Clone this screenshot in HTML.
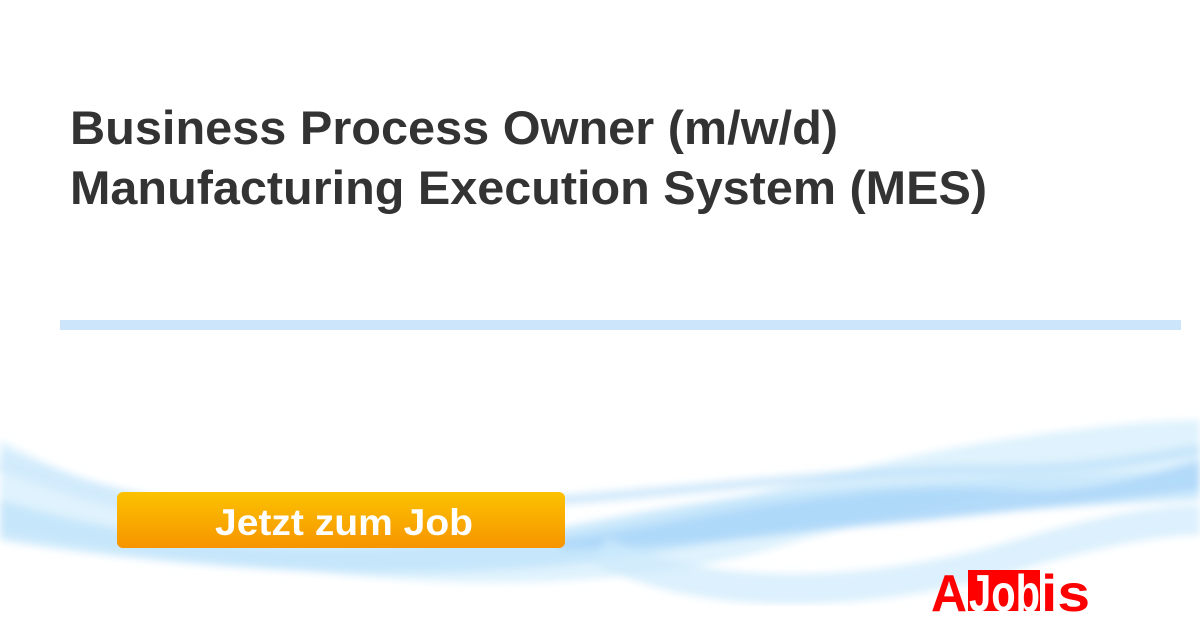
<!DOCTYPE html>
<html><head><meta charset="utf-8"><style>
html,body{margin:0;padding:0;background:#fff;}
body{width:1200px;height:630px;overflow:hidden;position:relative;font-family:"Liberation Sans",sans-serif;}
svg{position:absolute;left:0;top:0;}
</style></head><body>
<svg width="1200" height="630" viewBox="0 0 1200 630">
<defs>
<linearGradient id="btn" x1="0" y1="0" x2="0" y2="1">
<stop offset="0" stop-color="#fbc200"/><stop offset="1" stop-color="#f79400"/>
</linearGradient>
<filter id="bl"><feGaussianBlur stdDeviation="4"/></filter>
</defs>
<text x="70" y="144" font-family="Liberation Sans, sans-serif" font-weight="bold" font-size="47" fill="#333" textLength="768" lengthAdjust="spacingAndGlyphs">Business Process Owner (m/w/d)</text>
<text x="70" y="204" font-family="Liberation Sans, sans-serif" font-weight="bold" font-size="47" fill="#333" textLength="917" lengthAdjust="spacingAndGlyphs">Manufacturing Execution System (MES)</text>
<rect x="60" y="320" width="1121" height="10" fill="#cce5fb"/>
<g filter="url(#bl)" fill="none">
<path d="M0,440 C150,520 300,540 450,540 C650,540 800,470 1000,440 C1100,425 1160,420 1200,420 L1200,470 C1100,470 950,500 800,540 C650,590 450,590 300,570 C150,555 50,540 0,530 Z" fill="#d9f0fd" opacity="0.85"/>
<path d="M0,500 C200,560 400,560 600,520 C800,480 950,480 1200,470 L1200,500 C1000,510 850,520 700,545 C500,585 250,580 0,540 Z" fill="#bfe3fb" opacity="0.75"/>
<path d="M560,540 C700,520 850,480 1000,490 C1100,495 1160,470 1200,460 L1200,490 C1100,500 950,520 820,530 C700,545 620,548 560,550 Z" fill="#a8d4f8" opacity="0.75"/>
<path d="M600,550 C700,600 850,600 1000,560 C1100,530 1160,520 1200,520" stroke="#cde9fc" stroke-width="30" opacity="0.7"/>
<path d="M0,460 C100,500 200,520 300,520" stroke="#cfeafc" stroke-width="20" opacity="0.8"/>
<path d="M560,500 C700,490 850,470 1000,470 C1100,470 1160,455 1200,450" stroke="#b5dcf9" stroke-width="10" opacity="0.6"/>
</g>
<rect x="117" y="492" width="448" height="56" rx="6" fill="url(#btn)"/>
<text x="344" y="535" text-anchor="middle" font-family="Liberation Sans, sans-serif" font-weight="bold" font-size="37" fill="#fff" textLength="258" lengthAdjust="spacingAndGlyphs">Jetzt zum Job</text>
<rect x="968" y="570" width="72" height="41" fill="#f00"/>
<text x="931" y="611" font-family="Liberation Sans, sans-serif" font-weight="bold" font-size="52" fill="#f00" textLength="36" lengthAdjust="spacingAndGlyphs">A</text>
<text x="969" y="611" font-family="Liberation Sans, sans-serif" font-weight="bold" font-size="52" fill="#fff" textLength="71" lengthAdjust="spacingAndGlyphs">Job</text>
<text x="1041" y="611" font-family="Liberation Sans, sans-serif" font-weight="bold" font-size="52" fill="#f00" textLength="49" lengthAdjust="spacingAndGlyphs">is</text>
</svg>
</body></html>
